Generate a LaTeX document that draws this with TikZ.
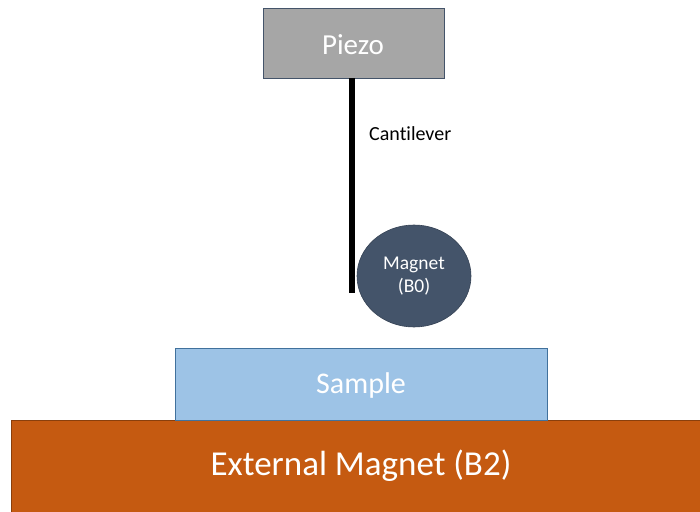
\documentclass[tikz,border=0pt]{standalone}
\usepackage{fontspec}
\setmainfont[Ligatures=NoCommon]{Carlito}
\usetikzlibrary{shapes.geometric}
\definecolor{piezogray}{HTML}{A6A6A6}
\definecolor{slate}{HTML}{44546A}
\definecolor{sampleblue}{HTML}{9DC3E6}
\definecolor{sampleedge}{HTML}{41719C}
\definecolor{rust}{HTML}{C55A11}
\begin{document}
\begin{tikzpicture}[x=1pt,y=-1pt,
  block/.style={draw=slate, line width=0.8pt, text=white, inner sep=0pt, outer sep=0pt},
]
\useasboundingbox (0,0) rectangle (700,511);
% external magnet base
\node[block, draw=rust!70!black, fill=rust, minimum width=690, minimum height=92, anchor=north west] (ext) at (11,420) {};
\node[text=white, font=\fontsize{35}{42}\selectfont] (extlabel) at (361,466) {External Magnet (B2)};
% sample
\node[block, draw=sampleedge, fill=sampleblue, minimum width=372, minimum height=72, anchor=north west] (sample) at (175,348) {};
\node[text=white, font=\fontsize{30}{36}\selectfont] (samplelabel) at (361,385) {Sample};
% piezo
\node[block, fill=piezogray, minimum width=181, minimum height=70, anchor=north west] (piezo) at (263,8) {};
\node[text=white, font=\fontsize{29}{35}\selectfont] (piezolabel) at (353,45) {Piezo};
% cantilever
\coordinate (tip) at (352,293);
\draw[line width=6.5pt] (352,78) -- (tip);
\node[font=\fontsize{20}{24}\selectfont, anchor=west, inner sep=0pt] (cant) at (369,134) {Cantilever};
% probe magnet
\node[ellipse, fill=slate, draw=slate!80!black, line width=0.6pt, minimum width=114, minimum height=102, inner sep=0pt, text=white, align=center, font=\fontsize{19.5}{23}\selectfont] (mag) at (414,276) {Magnet\\(B0)};
\end{tikzpicture}
\end{document}
